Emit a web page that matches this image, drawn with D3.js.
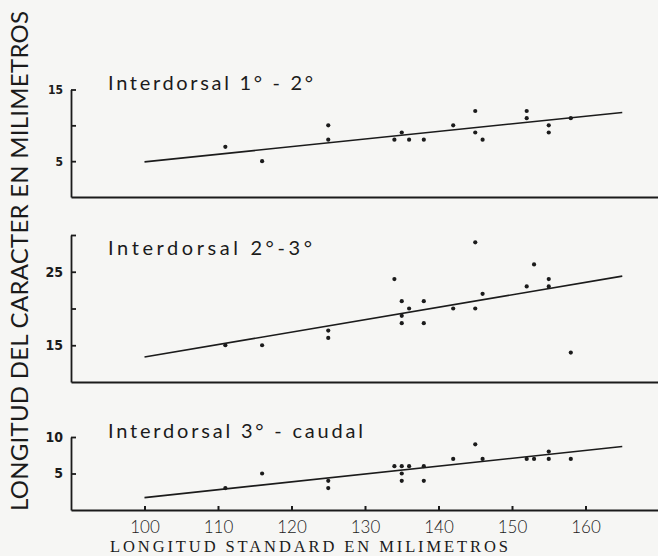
<!DOCTYPE html>
<html>
<head>
<meta charset="utf-8">
<script src="https://cdn.jsdelivr.net/npm/d3@7"></script>
<style>
  body { margin: 0; background: #f6f6f4; }
  svg { display: block; }
  .tick line, .domain { stroke: #1b1b1b; }
</style>
</head>
<body>
<div id="container"></div>
<script>
const w = 658,
  h = 556;

// x values (longitud standard, mm) shared domain
const xTicks = [100, 110, 120, 130, 140, 150, 160];

// Interdorsal 1-2
const x12 = [111, 116, 125, 125, 134, 135, 136, 138, 142, 145, 145, 146, 152, 152, 155, 155, 158];
const y12 = [7, 5, 10, 8, 8, 9, 8, 8, 10, 12, 9, 8, 12, 11, 10, 9, 11];
const fit12 = [[100, 4.9], [165, 11.8]];
const ticks12 = [5, 10, 15];
const labels12 = [5, 15];

// Interdorsal 2-3
const x23 = [111, 116, 125, 125, 134, 135, 136, 135, 135, 138, 138, 142, 145, 145, 146, 152, 153, 155, 155, 158];
const y23 = [15, 15, 17, 16, 24, 21, 20, 19, 18, 21, 18, 20, 29, 20, 22, 23, 26, 24, 23, 14];
const fit23 = [[100, 13.4], [165, 24.4]];
const ticks23 = [15, 20, 25, 30];
const labels23 = [15, 25];

// Interdorsal 3-caudal
const x3c = [111, 116, 125, 125, 134, 135, 135, 135, 136, 138, 138, 142, 145, 146, 152, 153, 155, 155, 158];
const y3c = [3, 5, 4, 3, 6, 6, 5, 4, 6, 6, 4, 7, 9, 7, 7, 7, 8, 7, 7];
const fit3c = [[100, 1.7], [165, 8.7]];
const ticks3c = [5, 10];
const labels3c = [5, 10];

const titles = ['Interdorsal 1° - 2°', 'Interdorsal 2°-3°', 'Interdorsal 3° - caudal'];

const panels = [
  { xs: x12, ys: y12, fit: fit12, ticks: ticks12, labels: labels12, domain: [0, 15], range: [197, 89.5], title: titles[0], titleY: 90, titleLen: 205, labelSize: 12 },
  { xs: x23, ys: y23, fit: fit23, ticks: ticks23, labels: labels23, domain: [10, 30], range: [382, 235], title: titles[1], titleY: 255, titleLen: 204, labelSize: 14 },
  { xs: x3c, ys: y3c, fit: fit3c, ticks: ticks3c, labels: labels3c, domain: [0, 10], range: [510, 437], title: titles[2], titleY: 438, titleLen: 255, labelSize: 14 }
];

const svg = d3.select('#container').append('svg').attr('width', w).attr('height', h);

const xScale = d3.scaleLinear().domain([90, 170]).range([71, 659]);

panels.forEach((p, i) => {
  const yScale = d3.scaleLinear().domain(p.domain).range(p.range);
  const g = svg.append('g');

  const yAxis = d3.axisLeft(yScale)
    .tickValues(p.ticks)
    .tickSizeInner(-5)
    .tickSizeOuter(0)
    .tickPadding(8)
    .tickFormat((d) => (p.labels.includes(d) ? d : ''));

  g.append('g')
    .attr('transform', 'translate(' + xScale(90) + ',0)')
    .call(yAxis)
    .call((a) => a.selectAll('line, path').attr('stroke-width', 1.8))
    .call((a) => a.selectAll('text')
      .attr('font-family', '"Liberation Sans Narrow", "DejaVu Sans Condensed", sans-serif')
      .attr('font-weight', 'bold')
      .attr('font-size', p.labelSize)
      .attr('fill', '#1b1b1b'));

  const xAxis = d3.axisBottom(xScale)
    .tickValues(i === 2 ? xTicks : [])
    .tickSizeInner(-4)
    .tickSizeOuter(0)
    .tickPadding(11);

  g.append('g')
    .attr('transform', 'translate(0,' + yScale(p.domain[0]) + ')')
    .call(xAxis)
    .call((a) => a.selectAll('line, path').attr('stroke-width', 2))
    .call((a) => a.selectAll('text')
      .attr('font-family', 'Lato, "Open Sans", sans-serif')
      .attr('font-weight', 300)
      .attr('font-size', 17)
      .attr('fill', '#1b1b1b'));

  g.append('line')
    .attr('x1', xScale(p.fit[0][0]))
    .attr('y1', yScale(p.fit[0][1]))
    .attr('x2', xScale(p.fit[1][0]))
    .attr('y2', yScale(p.fit[1][1]))
    .attr('stroke', '#1b1b1b')
    .attr('stroke-width', 1.6);

  g.selectAll('circle')
    .data(p.xs.map((x, j) => [x, p.ys[j]]))
    .enter()
    .append('circle')
    .attr('cx', (d) => xScale(d[0]))
    .attr('cy', (d) => yScale(d[1]))
    .attr('r', 2.1)
    .attr('fill', '#1b1b1b');

  g.append('text')
    .text(p.title)
    .attr('x', 108)
    .attr('y', p.titleY)
    .attr('textLength', p.titleLen)
    .attr('lengthAdjust', 'spacing')
    .attr('font-family', 'Lato, "Open Sans", sans-serif')
    .attr('font-size', 20)
    .attr('fill', '#1b1b1b');
});

svg
  .append('text')
  .text('LONGITUD DEL CARACTER EN MILIMETROS')
  .attr('transform', 'rotate(-90)')
  .attr('x', -511)
  .attr('y', 28)
  .attr('textLength', 500)
  .attr('lengthAdjust', 'spacing')
  .attr('font-family', 'Lato, "Open Sans", sans-serif')
  .attr('font-size', 24)
  .attr('fill', '#1b1b1b');

svg
  .append('text')
  .text('LONGITUD STANDARD EN MILIMETROS')
  .attr('x', 110)
  .attr('y', 552)
  .attr('textLength', 398)
  .attr('lengthAdjust', 'spacing')
  .attr('font-family', '"Liberation Serif", "DejaVu Serif", serif')
  .attr('font-size', 16.5)
  .attr('fill', '#1b1b1b');
</script>
</body>
</html>
